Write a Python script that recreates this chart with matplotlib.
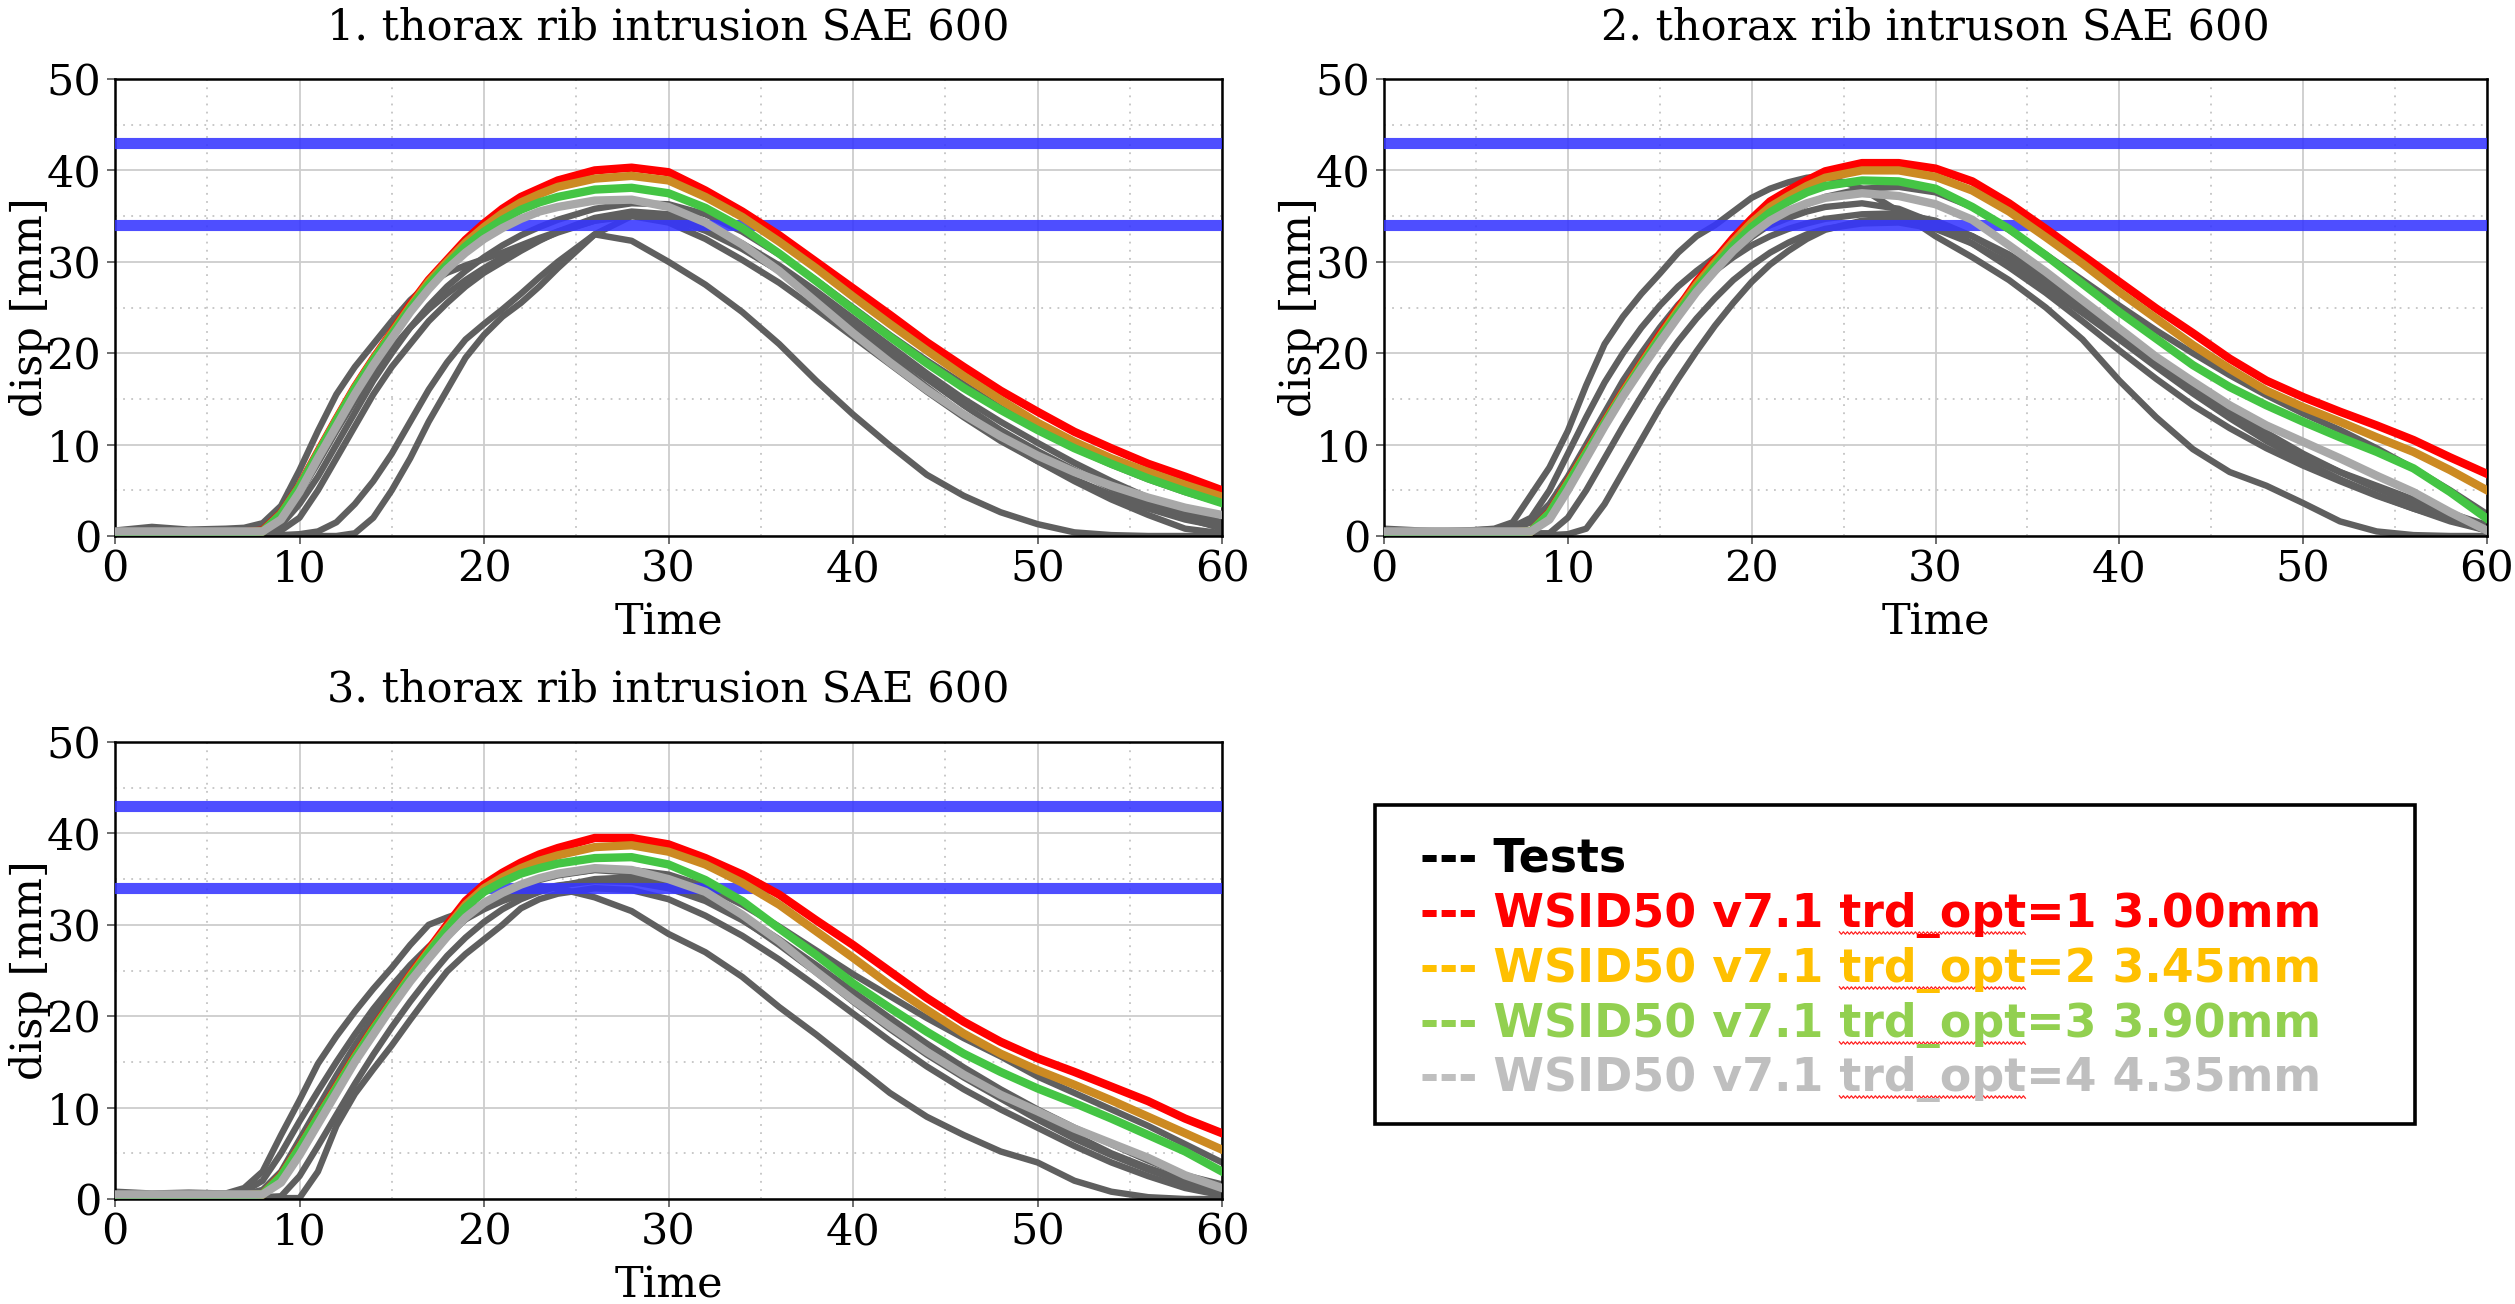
import numpy as np
import matplotlib
matplotlib.use("Agg")
import matplotlib.pyplot as plt
import matplotlib.font_manager as fm
from matplotlib.patches import Rectangle
from matplotlib.lines import Line2D

# ---------------- data ----------------
T = [0, 2, 4, 6, 7, 8, 9, 10, 11, 12, 13, 14, 15, 16, 17, 18, 19, 20, 21, 22, 23, 24,
     26, 28, 30, 32, 34, 36, 38, 40, 42, 44, 46, 48, 50, 52, 54, 56, 58, 60]

LIMITS = [43, 34]

XTICKS = [0, 10, 20, 30, 40, 50, 60]
YTICKS = [0, 10, 20, 30, 40, 50]

TITLES = ["1. thorax rib intrusion SAE 600",
          "2. thorax rib intruson SAE 600",
          "3. thorax rib intrusion SAE 600"]
XLABEL = "Time"
YLABEL = "disp [mm]"

LEGEND_LABELS = ["Tests",
                 "WSID50 v7.1 trd_opt=1 3.00mm",
                 "WSID50 v7.1 trd_opt=2 3.45mm",
                 "WSID50 v7.1 trd_opt=3 3.90mm",
                 "WSID50 v7.1 trd_opt=4 4.35mm"]

# plot 1 simulations
p1_red = [0.4, 0.4, 0.4, 0.4, 0.4, 0.6, 2.5, 5.5, 9.2, 12.8, 16.3, 19.4, 22.3, 25.3, 28.0, 30.2, 32.4,
          34.2, 35.8, 37.1, 38.0, 38.9, 40.0, 40.3, 39.8, 37.8, 35.5, 32.9, 30.0, 27.1, 24.2, 21.2,
          18.5, 15.9, 13.6, 11.4, 9.6, 7.9, 6.5, 5.0]
p1_orange = [0.4, 0.4, 0.4, 0.4, 0.4, 0.5, 2.4, 5.4, 9.1, 12.7, 16.2, 19.3, 22.2, 25.1, 27.8, 30.0, 32.1,
             33.8, 35.3, 36.5, 37.4, 38.2, 39.1, 39.4, 38.9, 37.1, 34.9, 32.2, 29.3, 26.2, 23.2, 20.3,
             17.5, 14.9, 12.4, 10.3, 8.5, 7.0, 5.6, 4.3]
p1_green = [0.4, 0.4, 0.4, 0.4, 0.4, 0.5, 2.4, 5.4, 9.0, 12.6, 16.1, 19.2, 22.0, 24.9, 27.5, 29.7, 31.7,
            33.3, 34.6, 35.7, 36.5, 37.1, 37.9, 38.1, 37.5, 35.9, 33.7, 30.9, 27.9, 24.8, 21.8, 18.9,
            16.2, 13.8, 11.6, 9.6, 7.9, 6.3, 4.9, 3.6]
p1_lgray = [0.5, 0.5, 0.5, 0.5, 0.5, 0.5, 1.8, 4.8, 8.5, 12.0, 15.5, 18.7, 21.6, 24.5, 27.0, 29.2, 31.0,
            32.5, 33.7, 34.7, 35.5, 36.0, 36.7, 36.8, 36.0, 34.3, 31.9, 29.0, 25.6, 22.2, 19.0, 16.0,
            13.3, 10.9, 8.8, 7.0, 5.5, 4.2, 3.1, 2.3]
# plot 1 tests
p1_t1 = [0.6, 1.0, 0.7, 0.8, 0.9, 1.4, 3.3, 7.2, 11.5, 15.5, 18.5, 21.0, 23.5, 25.8, 27.6, 28.8, 29.6,
         30.3, 31.0, 31.8, 32.6, 33.3, 34.5, 35.0, 34.3, 32.5, 30.2, 27.7, 24.8, 21.8, 18.8, 15.8,
         13.0, 10.4, 8.2, 6.2, 4.5, 3.0, 1.8, 1.0]
p1_t2 = [0.3, 0.5, 0.4, 0.5, 0.6, 0.8, 1.6, 4.6, 8.0, 11.5, 14.8, 17.8, 20.5, 22.8, 24.8, 26.5, 28.0,
         29.3, 30.5, 31.5, 32.4, 33.2, 34.5, 35.2, 34.8, 33.4, 31.4, 29.0, 26.3, 23.3, 20.2, 17.2,
         14.3, 11.6, 9.3, 7.2, 5.2, 3.5, 2.0, 0.8]
p1_t3 = [0.3, 0.3, 0.3, 0.3, 0.4, 0.5, 1.2, 3.5, 6.5, 10.0, 13.5, 17.0, 20.0, 22.8, 25.2, 27.3, 29.0,
         30.5, 31.8, 32.9, 33.8, 34.6, 35.8, 36.4, 36.3, 35.2, 33.3, 30.8, 28.0, 25.0, 22.0, 19.2,
         16.6, 14.0, 11.7, 9.6, 7.8, 6.2, 4.8, 3.6]
p1_t4 = [0.1, 0.1, 0.1, 0.1, 0.1, 0.1, 0.1, 0.2, 0.5, 1.5, 3.5, 6.0, 9.0, 12.5, 16.0, 19.0, 21.5,
         23.2, 24.8, 26.5, 28.3, 30.0, 33.0, 35.0, 35.0, 33.6, 31.5, 29.0, 26.0, 22.7, 19.5, 16.3,
         13.3, 10.6, 8.2, 6.0, 4.0, 2.3, 0.8, 0.3]
p1_t5 = [0.0, 0.0, 0.0, 0.0, 0.0, 0.0, 0.0, 0.0, 0.0, 0.0, 0.3, 2.0, 5.0, 8.5, 12.5, 16.0, 19.5,
         22.0, 24.0, 25.5, 27.3, 29.3, 33.0, 32.3, 30.0, 27.5, 24.5, 21.0, 17.0, 13.3, 9.9, 6.7,
         4.4, 2.6, 1.3, 0.4, 0.1, 0.0, 0.0, 0.0]
p1_t6 = [0.2, 0.3, 0.2, 0.3, 0.3, 0.4, 0.6, 2.0, 5.0, 8.5, 12.0, 15.5, 18.5, 21.0, 23.5, 25.5, 27.3,
         28.8, 30.0, 31.2, 32.3, 33.3, 34.8, 35.5, 35.2, 34.0, 32.0, 29.6, 26.8, 23.8, 20.8, 17.8,
         15.0, 12.5, 10.2, 8.0, 6.0, 4.2, 2.6, 1.5]

# plot 2 simulations
p2_red = [0.4, 0.4, 0.4, 0.4, 0.4, 0.5, 2.6, 5.9, 9.2, 12.5, 15.8, 18.9, 22.0, 24.9, 27.8, 30.2, 32.6,
          34.7, 36.6, 37.8, 38.9, 39.9, 40.8, 40.8, 40.2, 38.8, 36.4, 33.6, 30.7, 27.8, 24.9, 22.2,
          19.4, 17.0, 15.2, 13.6, 12.1, 10.5, 8.6, 6.8]
p2_orange = [0.4, 0.4, 0.4, 0.4, 0.4, 0.5, 2.5, 5.8, 9.1, 12.4, 15.7, 18.8, 21.8, 24.7, 27.5, 29.9, 32.2,
             34.3, 36.0, 37.2, 38.3, 39.2, 40.0, 40.0, 39.3, 37.8, 35.5, 32.7, 29.8, 26.7, 23.8, 20.9,
             18.3, 15.9, 14.1, 12.5, 10.8, 9.2, 7.2, 5.0]
p2_green = [0.4, 0.4, 0.4, 0.4, 0.4, 0.5, 2.5, 5.7, 9.0, 12.3, 15.5, 18.6, 21.6, 24.4, 27.1, 29.5, 31.8,
            33.8, 35.4, 36.6, 37.6, 38.3, 38.9, 38.8, 38.0, 36.0, 33.6, 30.7, 27.6, 24.5, 21.6, 18.7,
            16.3, 14.3, 12.5, 10.8, 9.2, 7.4, 4.8, 1.9]
p2_lgray = [0.5, 0.5, 0.5, 0.5, 0.5, 0.5, 1.8, 5.0, 8.5, 12.0, 15.3, 18.3, 21.2, 24.0, 26.7, 29.0, 31.2,
            33.0, 34.5, 35.6, 36.4, 37.0, 37.5, 37.2, 36.3, 34.6, 31.8, 28.9, 25.8, 22.7, 19.6, 16.9,
            14.3, 12.1, 10.3, 8.5, 6.6, 4.8, 2.6, 0.6]
# plot 2 tests
p2_t1 = [0.8, 0.6, 0.5, 0.8, 1.5, 4.5, 7.5, 11.5, 16.5, 21.0, 24.0, 26.5, 28.7, 31.0, 32.8, 34.0, 35.5,
         37.0, 38.0, 38.7, 39.2, 39.4, 38.0, 35.5, 32.8, 30.5, 28.0, 25.0, 21.5, 17.0, 13.0, 9.5,
         7.0, 5.5, 3.6, 1.6, 0.5, 0.1, 0.0, 0.0]
p2_t2 = [0.5, 0.4, 0.3, 0.6, 0.8, 1.5, 3.5, 6.5, 10.0, 13.5, 17.0, 20.0, 22.8, 25.3, 27.3, 29.0, 30.5,
         31.8, 32.8, 33.6, 34.2, 34.7, 35.2, 35.3, 34.5, 32.8, 30.5, 27.8, 25.0, 22.0, 19.0, 16.0,
         13.2, 10.8, 8.8, 7.0, 5.5, 4.0, 2.5, 1.2]
p2_t3 = [0.3, 0.3, 0.3, 0.3, 0.3, 0.3, 0.3, 2.0, 5.0, 8.5, 12.0, 15.3, 18.5, 21.3, 23.8, 26.0, 28.0,
         29.6, 31.0, 32.1, 33.0, 33.6, 34.2, 34.3, 33.6, 32.0, 29.8, 27.2, 24.4, 21.5, 18.5, 15.6,
         12.9, 10.4, 8.2, 6.2, 4.5, 3.0, 1.8, 0.6]
p2_t4 = [0.1, 0.1, 0.1, 0.1, 0.1, 0.1, 0.1, 0.2, 0.8, 3.5, 7.0, 10.5, 14.0, 17.2, 20.2, 23.0, 25.5,
         27.8, 29.7, 31.2, 32.5, 33.5, 34.5, 34.8, 34.2, 32.8, 30.8, 28.3, 25.5, 22.5, 19.5, 16.5,
         13.8, 11.3, 9.0, 7.0, 5.2, 3.6, 2.2, 1.0]
p2_t5 = [0.3, 0.3, 0.3, 0.3, 0.4, 0.5, 2.0, 5.0, 8.5, 12.0, 15.5, 18.6, 21.5, 24.2, 26.7, 29.0, 31.0,
         32.7, 34.1, 35.3, 36.3, 37.1, 38.0, 38.2, 37.6, 36.0, 33.5, 30.8, 28.0, 25.2, 22.5, 20.0,
         17.6, 15.4, 13.4, 11.6, 9.6, 7.4, 5.0, 2.4]
p2_t6 = [0.6, 0.5, 0.6, 0.7, 1.0, 2.0, 5.0, 9.0, 13.0, 16.8, 20.0, 22.8, 25.2, 27.3, 29.0, 30.5, 31.8,
         33.0, 34.0, 34.8, 35.5, 36.0, 36.4, 35.8, 34.2, 32.0, 29.4, 26.6, 23.5, 20.3, 17.2, 14.3,
         11.8, 9.6, 7.7, 6.0, 4.4, 3.0, 1.6, 0.6]

# plot 3 simulations
p3_red = [0.4, 0.4, 0.4, 0.4, 0.4, 0.5, 2.6, 5.7, 9.0, 12.3, 15.6, 18.7, 21.6, 24.5, 27.3, 30.0, 32.6,
          34.4, 35.7, 36.8, 37.7, 38.4, 39.5, 39.5, 38.8, 37.3, 35.5, 33.3, 30.5, 27.8, 24.9, 22.0,
          19.4, 17.2, 15.4, 13.9, 12.3, 10.7, 8.8, 7.2]
p3_orange = [0.4, 0.4, 0.4, 0.4, 0.4, 0.5, 2.5, 5.6, 8.9, 12.2, 15.5, 18.6, 21.5, 24.4, 27.1, 29.7, 32.2,
             34.0, 35.2, 36.2, 37.0, 37.6, 38.5, 38.7, 38.0, 36.6, 34.6, 32.2, 29.3, 26.4, 23.4, 20.7,
             18.1, 15.9, 14.1, 12.5, 10.8, 9.0, 7.2, 5.4]
p3_green = [0.4, 0.4, 0.4, 0.4, 0.4, 0.5, 2.5, 5.6, 8.9, 12.1, 15.4, 18.5, 21.4, 24.2, 26.9, 29.5, 31.9,
            33.6, 34.7, 35.6, 36.2, 36.7, 37.3, 37.4, 36.6, 34.9, 32.6, 29.6, 26.7, 23.6, 20.9, 18.3,
            15.9, 13.9, 12.1, 10.5, 8.8, 7.0, 5.2, 3.0]
p3_lgray = [0.5, 0.5, 0.5, 0.5, 0.5, 0.5, 1.8, 4.8, 8.2, 11.6, 15.0, 18.0, 21.0, 23.8, 26.3, 28.7, 30.8,
            32.4, 33.5, 34.4, 35.1, 35.6, 36.2, 36.0, 35.0, 33.6, 31.1, 28.2, 24.9, 21.8, 18.9, 16.1,
            13.6, 11.4, 9.6, 7.7, 6.1, 4.5, 2.6, 1.2]
# plot 3 tests
p3_t1 = [0.8, 0.6, 0.7, 0.6, 1.2, 3.0, 7.0, 10.8, 14.8, 17.8, 20.5, 23.0, 25.3, 27.8, 30.0, 30.8, 31.5,
         32.3, 33.0, 33.7, 34.2, 34.0, 33.0, 31.5, 29.0, 27.0, 24.3, 21.0, 18.0, 14.8, 11.6, 9.0,
         7.0, 5.2, 4.0, 2.0, 0.8, 0.2, 0.0, 0.0]
p3_t2 = [0.3, 0.3, 0.3, 0.3, 0.3, 0.2, 0.1, 0.1, 3.0, 8.0, 11.5, 14.2, 16.8, 19.6, 22.3, 24.9, 26.8,
         28.4, 30.0, 31.8, 32.8, 33.4, 34.0, 33.8, 32.8, 31.0, 28.8, 26.2, 23.3, 20.3, 17.3, 14.5,
         12.0, 9.8, 7.8, 5.8, 4.0, 2.5, 1.2, 0.4]
p3_t3 = [0.3, 0.3, 0.3, 0.3, 0.4, 0.5, 2.0, 5.0, 8.5, 12.0, 15.3, 18.4, 21.3, 24.0, 26.5, 28.7, 30.6,
         32.2, 33.3, 34.2, 34.9, 35.4, 36.0, 36.0, 35.5, 34.2, 32.2, 29.8, 27.2, 24.6, 22.2, 19.8,
         17.6, 15.6, 13.4, 11.6, 9.8, 8.0, 6.0, 4.0]
p3_t4 = [0.5, 0.4, 0.5, 0.6, 0.8, 2.0, 5.0, 8.5, 11.8, 15.0, 18.0, 20.8, 23.3, 25.6, 27.6, 29.3, 30.6,
         31.7, 32.6, 33.3, 33.9, 34.3, 34.8, 34.7, 34.0, 32.6, 30.5, 28.0, 25.0, 22.0, 19.0, 16.2,
         13.6, 11.2, 9.0, 7.0, 5.0, 3.4, 2.0, 1.0]
p3_t5 = [0.2, 0.2, 0.2, 0.2, 0.2, 0.2, 0.3, 2.5, 5.8, 9.2, 12.6, 15.8, 18.8, 21.6, 24.2, 26.6, 28.6,
         30.3, 31.7, 32.8, 33.6, 34.2, 35.0, 35.2, 34.6, 33.2, 31.0, 28.4, 25.6, 22.7, 19.8, 17.0,
         14.4, 12.0, 9.8, 7.8, 6.0, 4.2, 2.6, 1.6]
p3_t6 = [0.3, 0.3, 0.3, 0.3, 0.5, 1.0, 3.0, 6.5, 10.0, 13.5, 16.8, 19.8, 22.5, 25.0, 27.2, 29.2, 30.9,
         32.3, 33.4, 34.3, 35.0, 35.5, 36.0, 35.7, 34.8, 33.0, 30.6, 27.8, 24.8, 21.6, 18.6, 15.8,
         13.3, 11.0, 8.7, 6.6, 4.8, 3.2, 1.8, 0.8]

TESTS = [[p1_t1, p1_t2, p1_t3, p1_t4, p1_t5, p1_t6],
         [p2_t1, p2_t2, p2_t3, p2_t4, p2_t5, p2_t6],
         [p3_t1, p3_t2, p3_t3, p3_t4, p3_t5, p3_t6]]
SIMS = [[p1_red, p1_orange, p1_green, p1_lgray],
        [p2_red, p2_orange, p2_green, p2_lgray],
        [p3_red, p3_orange, p3_green, p3_lgray]]

# ---------------- style ----------------
TEST_COLOR = "#5f5f5f"
SIM_COLORS = ["#ff0000", "#cc8a22", "#44c544", "#a8a8a8"]
LIMIT_COLOR = "#3535ff"
LEGEND_COLORS = ["#000000", "#ff0000", "#ffc000", "#92d050", "#bfbfbf"]

W, H = 2515, 1304
fig = plt.figure(figsize=(W / 100, H / 100), dpi=100)
fig.patch.set_facecolor("white")

SERIF = fm.FontProperties(family="DejaVu Serif", size=31)

AX_PX = [(115, 79, 1222, 536), (1384, 79, 2487, 536), (115, 742, 1222, 1199)]

for k, (l, t, r, b) in enumerate(AX_PX):
    ax = fig.add_axes([l / W, 1 - b / H, (r - l) / W, (b - t) / H])
    hpx, wpx = b - t, r - l
    for y in TESTS[k]:
        ax.plot(T, y, color=TEST_COLOR, lw=4.6, zorder=2, solid_joinstyle="round")
    for lim in LIMITS:
        ax.axhline(lim, color=LIMIT_COLOR, lw=8, alpha=0.88, zorder=3)
    for y, c in zip(SIMS[k], SIM_COLORS):
        ax.plot(T, y, color=c, lw=6.0, zorder=4, solid_joinstyle="round")

    ax.set_xlim(0, 60)
    ax.set_ylim(0, 50)
    ax.set_xticks(XTICKS)
    ax.set_yticks(YTICKS)
    ax.set_xticks([5, 15, 25, 35, 45, 55], minor=True)
    ax.set_yticks([5, 15, 25, 35, 45], minor=True)
    ax.set_xticklabels([str(v) for v in XTICKS], fontproperties=SERIF)
    ax.set_yticklabels([str(v) for v in YTICKS], fontproperties=SERIF)
    ax.tick_params(which="major", direction="out", length=6, width=1.2, color="#555555")
    ax.tick_params(axis="x", which="major", pad=3)
    ax.tick_params(axis="y", which="major", pad=4)
    ax.tick_params(which="minor", length=0)
    ax.set_axisbelow(True)
    ax.grid(True, which="major", color="#cdcdcd", lw=1.3, ls="-")
    ax.grid(True, which="minor", color="#c4c4c4", lw=1.3, ls=(0, (1, 3.5)))
    for sp in ax.spines.values():
        sp.set_linewidth(1.8)
        sp.set_color("black")

    ax.text(0.5, 1 + 40 / hpx, TITLES[k], transform=ax.transAxes, ha="center",
            va="baseline", fontproperties=SERIF)
    ax.text(0.5, -98 / hpx, XLABEL, transform=ax.transAxes, ha="center",
            va="baseline", fontproperties=SERIF)
    ax.text(-85 / wpx, 0.5, YLABEL, transform=ax.transAxes, ha="center",
            va="center", rotation=90, fontproperties=SERIF)

# ---------------- legend box ----------------
fig.patches.append(Rectangle((1375 / W, 1 - 1124 / H), 1040 / W, 319 / H,
                             transform=fig.transFigure, fill=False, lw=2.6,
                             ec="black", zorder=5))
LEG_FS = 33
LEG_X = 1420
LEG_BASE = [872, 927, 982, 1037, 1091]
renderer = fig.canvas.get_renderer()


def tw(s):
    tt = fig.text(0, 0, s, fontsize=LEG_FS, fontweight="bold", family="DejaVu Sans")
    w = tt.get_window_extent(renderer).width
    tt.remove()
    return w


for lab, col, yb in zip(LEGEND_LABELS, LEGEND_COLORS, LEG_BASE):
    fig.text(LEG_X / W, 1 - yb / H, "--- " + lab, color=col, fontsize=LEG_FS,
             fontweight="bold", family="DejaVu Sans", ha="left", va="baseline")
    if "trd_opt" in lab:
        head = "--- " + lab[:lab.index("trd_opt") + 7]
        x1 = LEG_X + tw(head)
        x0 = x1 - tw("trd_opt")
        xs = np.arange(x0, x1, 2.0)
        ys = yb + 6 + np.where(np.arange(len(xs)) % 2 == 0, -1.2, 1.2)
        fig.lines.append(Line2D(xs / W, 1 - ys / H, transform=fig.transFigure,
                                color="#ff2020", lw=0.9))

fig.savefig("out.png", dpi=100, facecolor="white")
